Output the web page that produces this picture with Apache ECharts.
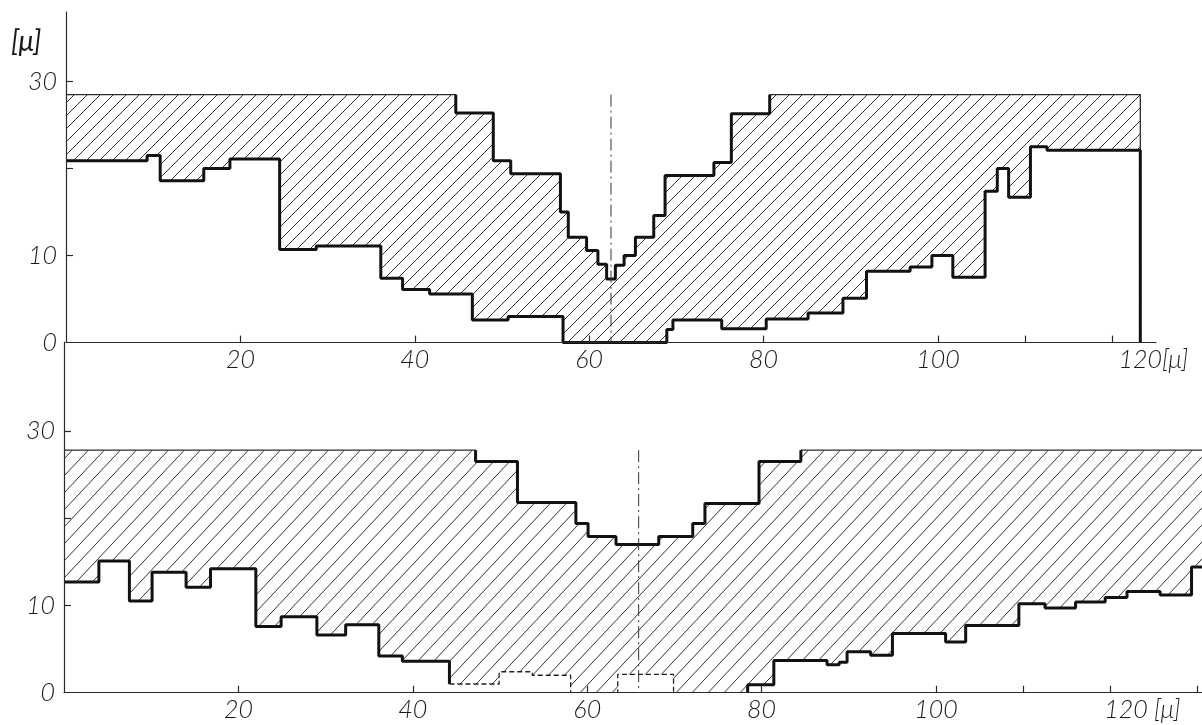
<!DOCTYPE html>
<html><head><meta charset="utf-8">
<script src="https://cdn.jsdelivr.net/npm/echarts@6/dist/echarts.min.js"></script>
<style>html,body{margin:0;padding:0;background:#fff}#c{width:1202px;height:725px}</style>
</head><body><div id="c"></div>
<script>
// ---------------- data (unit: μ) ----------------
// Top panel: upper boundary of hatched zone (step breakpoints + levels)
const topUpperX = [0, 44.7, 49.0, 51.0, 56.7, 57.6, 59.7, 61.0, 62.0, 63.0, 64.0, 65.3, 67.4, 68.7, 74.3, 76.3, 80.7, 123.2];
const topUpperY = [28.5, 26.4, 20.9, 19.4, 15.0, 12.1, 10.6, 9.0, 7.3, 8.9, 10.0, 12.1, 14.6, 19.2, 20.7, 26.3, 28.5];
// Top panel: lower stepped profile
const topLowerX = [0, 9.3, 10.8, 15.8, 18.8, 24.5, 28.7, 36.1, 38.6, 41.7, 46.6, 50.7, 57.0, 68.9, 69.6, 75.2, 80.3, 85.1, 89.1, 91.8, 96.8, 99.3, 101.7, 105.4, 106.8, 108.1, 110.6, 112.5, 123.2];
const topLowerY = [20.9, 21.5, 18.6, 20.0, 21.1, 10.7, 11.1, 7.4, 6.1, 5.6, 2.6, 3.0, 0, 1.5, 2.6, 1.6, 2.7, 3.4, 5.1, 8.2, 8.7, 10.0, 7.5, 17.4, 20.0, 16.7, 22.5, 22.1];
const topCenterX = 62.5;

// Bottom panel
const bottomUpperX = [0, 47.2, 52.0, 58.7, 60.1, 63.3, 68.2, 72.1, 73.5, 79.7, 84.5, 130.5];
const bottomUpperY = [27.8, 26.5, 21.8, 19.4, 17.9, 17.0, 17.9, 19.4, 21.7, 26.5, 27.8];
const bottomLowerX = [0, 4.0, 7.5, 10.1, 14.0, 16.8, 22.0, 24.9, 29.0, 32.3, 36.1, 38.8, 44.2, 49.9, 53.7, 58.1, 63.5, 69.9, 78.4, 81.4, 87.5, 88.9, 89.8, 92.5, 95.0, 101.1, 103.4, 109.5, 112.5, 116.0, 119.4, 121.9, 125.7, 129.3, 130.5];
const bottomLowerY = [12.7, 15.1, 10.5, 13.8, 12.1, 14.2, 7.6, 8.7, 6.6, 7.8, 4.2, 3.6, 1.0, 2.4, 2.0, 0, 2.1, 0, 0.9, 3.7, 3.2, 3.5, 4.7, 4.3, 6.8, 5.8, 7.7, 10.2, 9.7, 10.4, 10.9, 11.6, 11.2, 14.4];
const bottomDashedRange = [44.2, 69.9];   // part of the lower profile drawn dashed
const bottomCenterX = 65.9;

// Axis labels / ticks
const xLabelValues = [20, 40, 60, 80, 100, 120];
const yLabelValues = [0, 10, 30];
const yTickValues = [10, 20, 30];
const unit = '[μ]';

// ---------------- helpers ----------------
function pts(xs, ys) { return xs.map((x, i) => [x, ys[Math.min(i, ys.length - 1)]]); }
function seg(xs, ys, i0, i1) {
  const p = pts(xs, ys);
  return [[xs[i0], ys[Math.max(0, i0 - 1)]]].concat(p.slice(i0, i1 + 1));
}
function notch(xs, ys) {
  const base = ys[0];
  const s = ys.findIndex(v => v < base);
  let e = s; for (let i = s; i < ys.length; i++) if (ys[i] < base) e = i;
  return seg(xs, ys, s, e + 1);
}
function hatch(w, h, color, lw) {
  const c = document.createElement('canvas'); c.width = w; c.height = h;
  const g = c.getContext('2d'); g.strokeStyle = color; g.lineWidth = lw;
  g.beginPath();
  for (const dx of [-w, 0, w]) { g.moveTo(dx, h); g.lineTo(dx + w, 0); }
  g.stroke();
  return c;
}

const FONT = { fontFamily: 'Lato, "Open Sans", sans-serif', fontStyle: 'italic', fontWeight: 300, color: '#1a1a1a' };
const THICK = { color: '#111', width: 3 };
const THIN = { color: '#2a2a2a', width: 1.3 };
const AXIS = { color: '#2a2a2a', width: 1.2 };

function xAxisCfg(gi, max, ticks, lastLabel, shift) {
  return {
    gridIndex: gi, type: 'value', min: 0, max: max, z: 10,
    axisLine: { onZero: false, lineStyle: AXIS },
    axisTick: { inside: true, length: 7, customValues: ticks, lineStyle: AXIS },
    splitLine: { show: false },
    axisLabel: Object.assign({}, FONT, {
      customValues: xLabelValues, margin: 5, fontSize: 25,
      formatter: v => v === xLabelValues[xLabelValues.length - 1] ? '{u|' + lastLabel + '}' : String(v),
      rich: { u: Object.assign({}, FONT, { fontSize: 25, padding: [0, 0, 0, shift] }) }
    })
  };
}
function yAxisCfg(gi, min, max) {
  return {
    gridIndex: gi, type: 'value', min: min, max: max, z: 10,
    axisLine: { onZero: false, lineStyle: AXIS },
    axisTick: { inside: true, length: 7, customValues: yTickValues, lineStyle: AXIS },
    splitLine: { show: false },
    axisLabel: Object.assign({}, FONT, { customValues: yLabelValues, margin: 9, fontSize: 25 })
  };
}

const hatchTop = hatch(13, 13, '#333', 1);
const hatchBot = hatch(16, 17, '#333', 1);

function line(name, gi, data, style, extra) {
  return Object.assign({
    name: name, type: 'line', xAxisIndex: gi, yAxisIndex: gi, data: data,
    step: 'end', symbol: 'none', silent: true, lineStyle: style, z: 3
  }, extra || {});
}

// top panel series data
const tUp = pts(topUpperX, topUpperY).concat([[topUpperX[topUpperX.length - 1], 0]]);
const tLow = pts(topLowerX, topLowerY).concat([[topLowerX[topLowerX.length - 1], 0]]);
// bottom panel series data
const bUp = pts(bottomUpperX, bottomUpperY);
const bLow = pts(bottomLowerX, bottomLowerY);
const iD0 = bottomLowerX.indexOf(bottomDashedRange[0]);
const iD1 = bottomLowerX.indexOf(bottomDashedRange[1]);
let iR = iD1 + 1; while (iR < bottomLowerY.length && bottomLowerY[iR] <= 0) iR++;

const option = {
  animation: false,
  backgroundColor: '#fff',
  graphic: [{
    type: 'text', left: 11, top: 28, silent: true,
    style: Object.assign({}, FONT, { text: unit, fontSize: 28, fontWeight: 400, fill: '#1a1a1a' })
  }],
  grid: [
    { left: 66, right: 46, top: 12, bottom: 382.4 },
    { left: 64, right: 0, top: 342, bottom: 32.3 }
  ],
  xAxis: [
    xAxisCfg(0, 125, [20, 40, 60, 80, 100, 110, 120], '120' + unit, 82),
    xAxisCfg(1, 130.5, [20, 40, 60, 80, 100, 110, 120, 130], '120 ' + unit, 64)
  ],
  yAxis: [
    yAxisCfg(0, 0, 38),
    yAxisCfg(1, 0, 40.2)
  ],
  series: [
    // ---- top ----
    line('top zone', 0, tUp, THIN, { z: 1, areaStyle: { color: { image: hatchTop, repeat: 'repeat' }, opacity: 1 } }),
    line('top below', 0, tLow, { opacity: 0, width: 0 }, { z: 2, areaStyle: { color: '#fff', opacity: 1 } }),
    line('top notch', 0, notch(topUpperX, topUpperY), THICK),
    line('top profile', 0, tLow, THICK),
    line('top centre', 0, [[topCenterX, topUpperY[0]], [topCenterX, 0]], { color: '#333', width: 1, type: [12, 4, 2, 4] }, { step: false, z: 4 }),
    // ---- bottom ----
    line('bottom zone', 1, bUp, THIN, { z: 1, areaStyle: { color: { image: hatchBot, repeat: 'repeat' }, opacity: 1 } }),
    line('bottom below', 1, bLow, { opacity: 0, width: 0 }, { z: 2, areaStyle: { color: '#fff', opacity: 1 } }),
    line('bottom notch', 1, notch(bottomUpperX, bottomUpperY), THICK),
    line('bottom profile A', 1, bLow.slice(0, iD0 + 1), THICK),
    line('bottom profile dashed', 1, bLow.slice(iD0, iD1 + 1), { color: '#222', width: 1.3, type: [5, 3] }),
    line('bottom profile B', 1, seg(bottomLowerX, bottomLowerY, iR, bottomLowerX.length - 1), THICK),
    line('bottom centre', 1, [[bottomCenterX, bottomUpperY[0]], [bottomCenterX, 0]], { color: '#333', width: 1, type: [12, 4, 2, 4] }, { step: false, z: 4 })
  ]
};

const chart = echarts.init(document.getElementById('c'), null, { renderer: 'canvas' });
chart.setOption(option);
</script>
</body></html>
